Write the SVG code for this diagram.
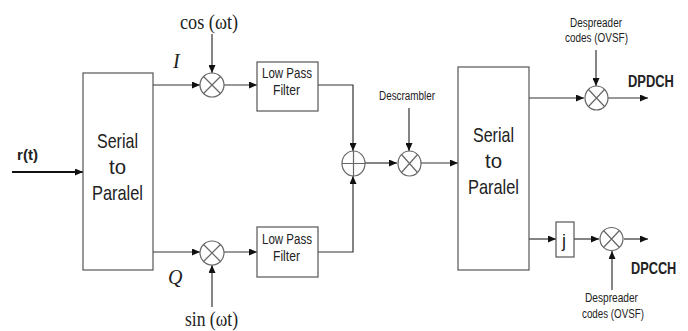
<svg xmlns="http://www.w3.org/2000/svg" width="688" height="331" viewBox="0 0 688 331">
<style>
.box{fill:#fff;stroke:#555;stroke-width:1.2}
.mix{fill:#fff;stroke:#666;stroke-width:1.2}
.cross{stroke:#666;stroke-width:1.2;fill:none}
.ln{fill:none;stroke:#333;stroke-width:1.2}
.sans{font-family:"Liberation Sans",Arial,sans-serif;fill:#222}
.serif{font-family:"Liberation Serif","Times New Roman",serif;fill:#222}
.big{font-size:21px}
.mid{font-size:14px}
.sm{font-size:12px}
.bold{font-weight:bold;font-size:17px}
</style>
<defs>
<marker id="ah" markerWidth="8" markerHeight="7" refX="8" refY="3.5" orient="auto" markerUnits="userSpaceOnUse">
<path d="M0,0 L8,3.5 L0,7 z" fill="#111"/>
</marker>
</defs>

<g id="connectors">
<line x1="12" y1="172" x2="83" y2="172" stroke="#111" stroke-width="2" marker-end="url(#ah)"/>
<line class="ln" x1="153" y1="85" x2="200" y2="85" marker-end="url(#ah)"/>
<line class="ln" x1="212" y1="34" x2="212" y2="73" marker-end="url(#ah)"/>
<line class="ln" x1="224" y1="85" x2="257" y2="85" marker-end="url(#ah)"/>
<polyline class="ln" points="318,85 353,85 353,151" marker-end="url(#ah)"/>
<line class="ln" x1="153" y1="252" x2="200" y2="252" marker-end="url(#ah)"/>
<line class="ln" x1="212" y1="307" x2="212" y2="265" marker-end="url(#ah)"/>
<line class="ln" x1="224" y1="252" x2="257" y2="252" marker-end="url(#ah)"/>
<polyline class="ln" points="318,252 353,252 353,176" marker-end="url(#ah)"/>
<line class="ln" x1="365" y1="163" x2="397" y2="163" marker-end="url(#ah)"/>
<line class="ln" x1="409" y1="108" x2="409" y2="151" marker-end="url(#ah)"/>
<line class="ln" x1="421" y1="163" x2="458" y2="163" marker-end="url(#ah)"/>
<line class="ln" x1="529" y1="98" x2="584" y2="98" marker-end="url(#ah)"/>
<line class="ln" x1="596" y1="50" x2="596" y2="86" marker-end="url(#ah)"/>
<line class="ln" x1="608" y1="98" x2="648" y2="98" marker-end="url(#ah)"/>
<line class="ln" x1="529" y1="239" x2="556" y2="239" marker-end="url(#ah)"/>
<line class="ln" x1="574" y1="239" x2="599" y2="239" marker-end="url(#ah)"/>
<line class="ln" x1="612" y1="290" x2="612" y2="251" marker-end="url(#ah)"/>
<line class="ln" x1="624" y1="239" x2="648" y2="239" marker-end="url(#ah)"/>
</g>

<g id="input-label">
<text class="sans" x="17" y="160" font-size="15" font-weight="bold" textLength="21" lengthAdjust="spacingAndGlyphs">r(t)</text>
</g>

<g id="sp1">
<rect class="box" x="83" y="73" width="70" height="197"/>
<text class="sans big" x="97" y="148" textLength="41" lengthAdjust="spacingAndGlyphs">Serial</text>
<text class="sans big" x="109" y="174" textLength="17" lengthAdjust="spacingAndGlyphs">to</text>
<text class="sans big" x="92" y="200" textLength="51" lengthAdjust="spacingAndGlyphs">Paralel</text>
</g>

<g id="label-I"><text class="serif" x="173" y="68" font-size="20" font-style="italic">I</text></g>
<g id="label-Q"><text class="serif" x="168" y="284" font-size="20" font-style="italic">Q</text></g>
<g id="label-cos"><text class="serif" x="180" y="29" font-size="20" textLength="58" lengthAdjust="spacingAndGlyphs">cos (ωt)</text></g>
<g id="label-sin"><text class="serif" x="185" y="326" font-size="20" textLength="53" lengthAdjust="spacingAndGlyphs">sin (ωt)</text></g>

<g id="mixI">
<ellipse class="mix" cx="212" cy="85" rx="12" ry="12"/>
<path class="cross" d="M203.5,76.5 L220.5,93.5 M220.5,76.5 L203.5,93.5"/>
</g>
<g id="mixQ">
<ellipse class="mix" cx="212" cy="253" rx="12" ry="12"/>
<path class="cross" d="M203.5,244.5 L220.5,261.5 M220.5,244.5 L203.5,261.5"/>
</g>

<g id="lpf1">
<rect class="box" x="257" y="62" width="61" height="49"/>
<text class="sans mid" x="262" y="78" textLength="50" lengthAdjust="spacingAndGlyphs">Low Pass</text>
<text class="sans mid" x="273" y="95" textLength="27" lengthAdjust="spacingAndGlyphs">Filter</text>
</g>
<g id="lpf2">
<rect class="box" x="257" y="227" width="61" height="50"/>
<text class="sans mid" x="262" y="244" textLength="50" lengthAdjust="spacingAndGlyphs">Low Pass</text>
<text class="sans mid" x="273" y="261" textLength="27" lengthAdjust="spacingAndGlyphs">Filter</text>
</g>

<g id="sum">
<ellipse class="mix" cx="353.5" cy="163.5" rx="11.5" ry="12.5"/>
<path class="cross" d="M342,163.5 L365,163.5 M353.5,151 L353.5,176"/>
</g>

<g id="descrambler">
<ellipse class="mix" cx="409.5" cy="163.5" rx="11.5" ry="12.5"/>
<path class="cross" d="M401.5,154.5 L417.5,172.5 M417.5,154.5 L401.5,172.5"/>
<text class="sans sm" x="379" y="100" textLength="56" lengthAdjust="spacingAndGlyphs">Descrambler</text>
</g>

<g id="sp2">
<rect class="box" x="458" y="67" width="71" height="203"/>
<text class="sans big" x="473" y="142" textLength="41" lengthAdjust="spacingAndGlyphs">Serial</text>
<text class="sans big" x="485" y="168" textLength="17" lengthAdjust="spacingAndGlyphs">to</text>
<text class="sans big" x="468" y="194" textLength="51" lengthAdjust="spacingAndGlyphs">Paralel</text>
</g>

<g id="mixDPDCH">
<ellipse class="mix" cx="596.5" cy="98" rx="11.5" ry="12"/>
<path class="cross" d="M588.5,89.5 L604.5,106.5 M604.5,89.5 L588.5,106.5"/>
<text class="sans sm" x="570" y="27" textLength="52" lengthAdjust="spacingAndGlyphs">Despreader</text>
<text class="sans sm" x="565" y="42" textLength="63" lengthAdjust="spacingAndGlyphs">codes (OVSF)</text>
<text class="sans bold" transform="translate(628,87) scale(0.76,1)">DPDCH</text>
</g>

<g id="jbox">
<rect class="box" x="556" y="222" width="18" height="35"/>
<text class="sans" x="562" y="247" font-size="18">j</text>
</g>

<g id="mixDPCCH">
<ellipse class="mix" cx="611.5" cy="239" rx="11.5" ry="11.5"/>
<path class="cross" d="M603.5,230.5 L619.5,247.5 M619.5,230.5 L603.5,247.5"/>
<text class="sans sm" x="585" y="302" textLength="53" lengthAdjust="spacingAndGlyphs">Despreader</text>
<text class="sans sm" x="582" y="318" textLength="62" lengthAdjust="spacingAndGlyphs">codes (OVSF)</text>
<text class="sans bold" transform="translate(631,274) scale(0.75,1)">DPCCH</text>
</g>
</svg>
